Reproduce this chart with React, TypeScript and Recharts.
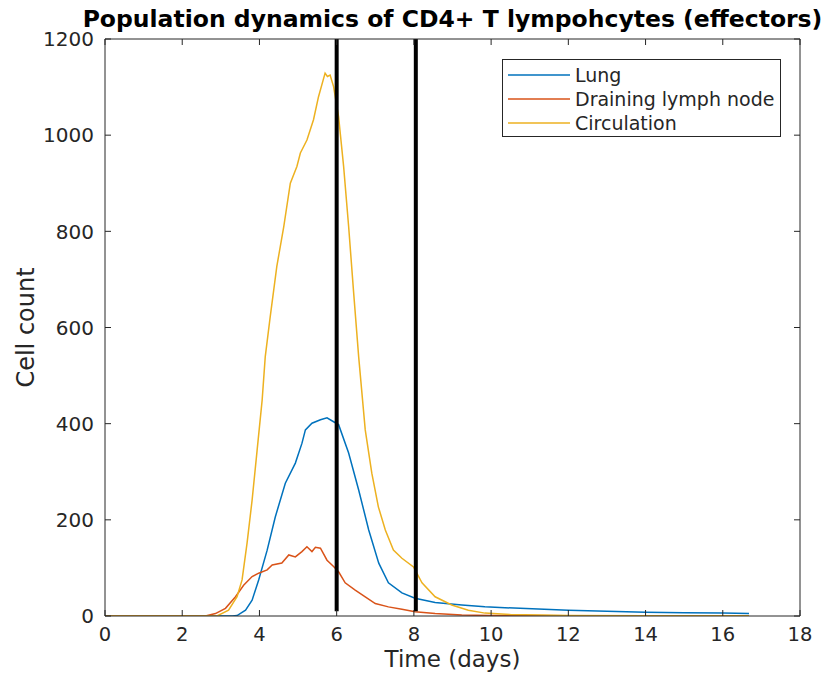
import React from 'react'
import { LineChart, Line, XAxis, YAxis, ReferenceLine, Legend, Label } from 'recharts'

// values (days, cell count)
const lungDays = [0, 2, 3, 3.3, 3.42, 3.64, 3.81, 3.98, 4.2, 4.41, 4.67, 4.93, 5.1, 5.19, 5.36, 5.58, 5.75, 5.92, 6.05, 6.31, 6.57, 6.83, 7.09, 7.34, 7.69, 8.03, 8.55, 9.24, 9.84, 10.75, 12, 13, 14, 15, 16, 16.68]
const lungCells = [0, 0, 0, 0, 1, 12, 33, 75, 137, 206, 276, 318, 359, 387, 401, 408, 412, 404, 398, 339, 262, 179, 110, 69, 48, 37, 28, 23, 19, 16, 12, 10, 8, 7, 6, 5]

const lymphDays = [0, 2.6, 2.86, 3.12, 3.38, 3.59, 3.81, 3.98, 4.2, 4.33, 4.58, 4.76, 4.93, 5.1, 5.23, 5.36, 5.45, 5.58, 5.75, 5.92, 6.05, 6.22, 6.48, 6.74, 7.0, 7.34, 7.69, 8.03, 8.55, 9.24, 10, 12, 14, 16.68]
const lymphCells = [0, 0, 5, 16, 40, 64, 82, 89, 96, 106, 110, 127, 123, 134, 144, 134, 143, 141, 116, 103, 92, 69, 54, 40, 26, 19, 14, 9, 5, 2, 1, 0.5, 0.3, 0.2]

const circDays = [0, 2.9, 3.2, 3.42, 3.55, 3.68, 3.81, 3.94, 4.07, 4.15, 4.28, 4.45, 4.63, 4.8, 4.97, 5.06, 5.23, 5.4, 5.53, 5.7, 5.76, 5.83, 5.92, 6.05, 6.18, 6.31, 6.44, 6.57, 6.74, 6.91, 7.08, 7.26, 7.47, 7.69, 7.99, 8.21, 8.55, 8.98, 9.41, 9.84, 10.5, 12, 14, 16.68]
const circCells = [0, 0, 12, 40, 75, 152, 241, 345, 449, 539, 623, 727, 810, 900, 935, 963, 990, 1032, 1080, 1129, 1122, 1125, 1101, 1038, 935, 810, 672, 539, 387, 297, 227, 179, 137, 120, 102, 69, 40, 23, 12, 6, 3, 1, 0.5, 0.3]

const markerDays = [6, 8.05]
const xTicks = [0, 2, 4, 6, 8, 10, 12, 14, 16, 18]
const yTicks = [0, 200, 400, 600, 800, 1000, 1200]

const seriesNames = ['Lung', 'Draining lymph node', 'Circulation']
const colors = ['#0072BD', '#D95319', '#EDB120']

const toRows = (days: number[], cells: number[]) => days.map((t, i) => ({ t, v: cells[i] }))

const font = 'DejaVu Sans'
const ink = '#262626'
const tickLen = 6

// MATLAB-style ticks: short marks pointing into the plot box
function InTick(props: any) {
  const { x, y, payload, side } = props
  if (side === 'bottom') {
    return (
      <g>
        <line x1={x} x2={x} y1={y} y2={y - tickLen} stroke={ink} />
        <text x={x} y={y + 25} textAnchor="middle" fontSize={19.5} fontFamily={font} fill={ink}>{payload.value}</text>
      </g>
    )
  }
  if (side === 'top') {
    return <line x1={x} x2={x} y1={y} y2={y + tickLen} stroke={ink} />
  }
  if (side === 'left') {
    return (
      <g>
        <line x1={x} x2={x + tickLen} y1={y} y2={y} stroke={ink} />
        <text x={x - 11} y={y} dy="0.36em" textAnchor="end" fontSize={20} fontFamily={font} fill={ink}>{payload.value}</text>
      </g>
    )
  }
  return <line x1={x} x2={x - tickLen} y1={y} y2={y} stroke={ink} />
}

function LegendBox() {
  return (
    <svg width={279} height={78} style={{ display: 'block' }}>
      <rect x={0.5} y={0.5} width={278} height={77} fill="#fff" stroke={ink} strokeWidth={1} />
      {seriesNames.map((name, i) => (
        <g key={name}>
          <line x1={6} x2={68} y1={16 + i * 24} y2={16 + i * 24} stroke={colors[i]} strokeWidth={1.5} />
          <text x={73} y={16 + i * 24 + 7} fontSize={19} fontFamily={font} fill={ink}>{name}</text>
        </g>
      ))}
    </svg>
  )
}

export default function App() {
  const series = [toRows(lungDays, lungCells), toRows(lymphDays, lymphCells), toRows(circDays, circCells)]

  return (
    <div style={{ position: 'absolute', left: 0, top: 0, background: '#fff', fontFamily: font }}>
      <LineChart width={825} height={681} margin={{ top: 38, right: 24, bottom: 0, left: 45 }}>
        <XAxis dataKey="t" type="number" domain={[0, 18]} ticks={xTicks} height={65}
          tickSize={0} tickMargin={0} tickLine={false} tick={<InTick side="bottom" />} stroke={ink} allowDataOverflow>
          <Label value="Time (days)" position="insideBottom" offset={14} fontSize={23} fontFamily={font} fill={ink} />
        </XAxis>
        <XAxis xAxisId="top" orientation="top" dataKey="t" type="number" domain={[0, 18]} ticks={xTicks} height={1}
          tickSize={0} tickMargin={0} tickLine={false} tick={<InTick side="top" />} stroke={ink} allowDataOverflow>
          <Label value="Population dynamics of CD4+ T lympohcytes (effectors)" position="top" offset={11}
            fontSize={23.5} fontWeight="bold" fontFamily={font} fill="#000" />
        </XAxis>
        <YAxis type="number" domain={[0, 1200]} ticks={yTicks} width={60}
          tickSize={0} tickMargin={0} tickLine={false} tick={<InTick side="left" />} stroke={ink} allowDataOverflow>
          <Label value="Cell count" angle={-90} position="center" dx={-50} fontSize={24} fontFamily={font} fill={ink} />
        </YAxis>
        <YAxis yAxisId="right" orientation="right" type="number" domain={[0, 1200]} ticks={yTicks} width={1}
          tickSize={0} tickMargin={0} tickLine={false} tick={<InTick side="right" />} stroke={ink} allowDataOverflow />
        {series.map((rows, i) => (
          <Line key={seriesNames[i]} data={rows} dataKey="v" name={seriesNames[i]} type="linear"
            stroke={colors[i]} strokeWidth={1.5} dot={false} activeDot={false} isAnimationActive={false} />
        ))}
        <Line data={series[0]} dataKey="v" xAxisId="top" yAxisId="right" stroke="none" dot={false}
          activeDot={false} legendType="none" isAnimationActive={false} />
        {markerDays.map((d) => (
          <ReferenceLine key={d} segment={[{ x: d, y: 10 }, { x: d, y: 1200 }]} stroke="#000" strokeWidth={4} />
        ))}
        <Legend layout="vertical" align="center" verticalAlign="middle" content={() => <LegendBox />}
          wrapperStyle={{ top: 59, left: 502, width: 279, height: 78 }} />
      </LineChart>
    </div>
  )
}
